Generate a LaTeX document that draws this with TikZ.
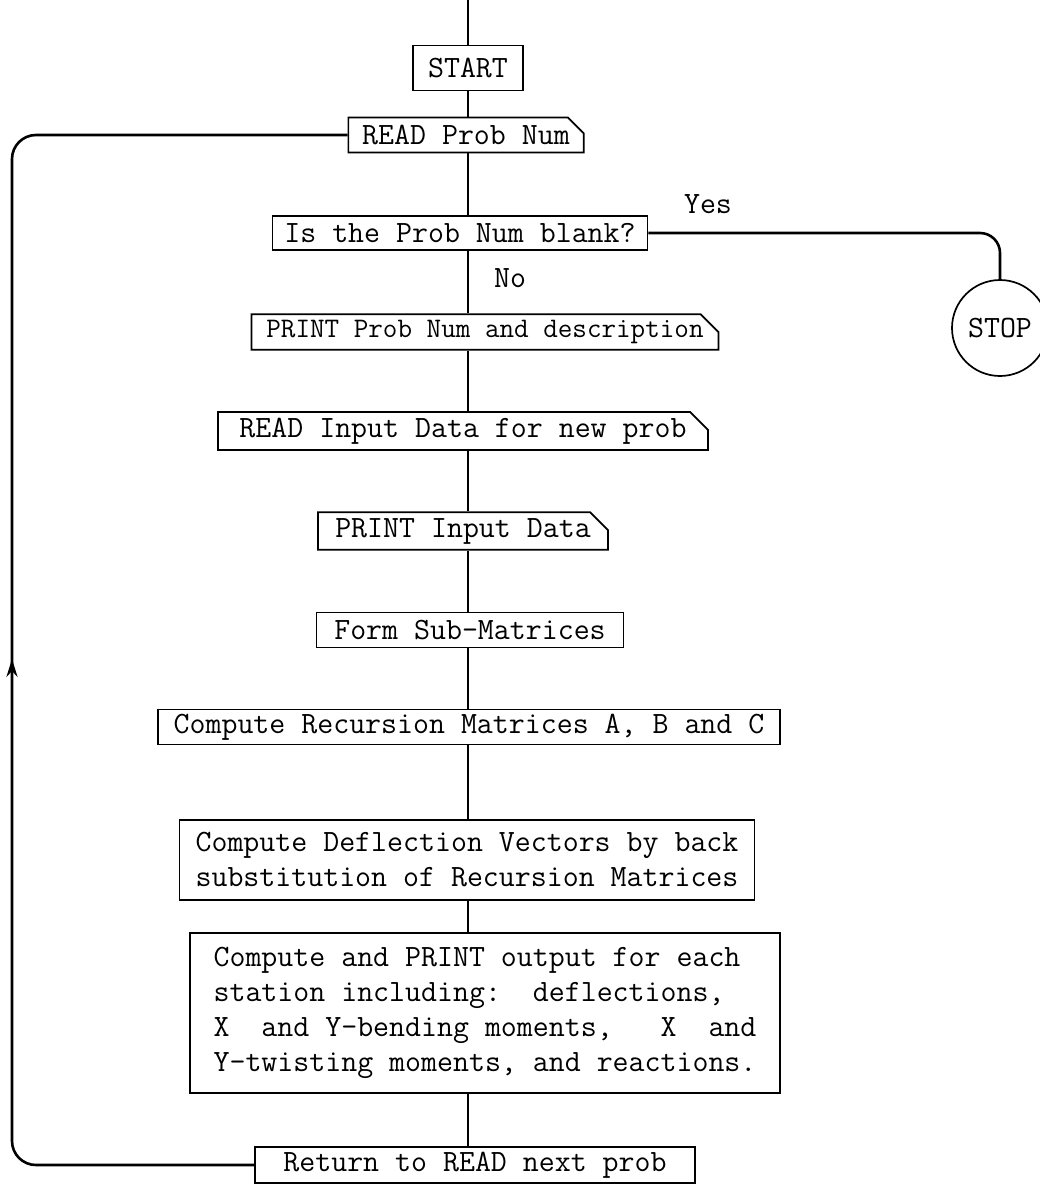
\documentclass[tikz,border=0pt]{standalone}
\usetikzlibrary{shapes.misc,shapes.geometric,arrows.meta,decorations.markings}

\tikzset{
  flowtext/.style={font=\fontsize{31}{35}\selectfont\ttfamily},
  procbox/.style={flowtext, draw, line width=1.7pt, fill=white, rectangle,
    inner xsep=6pt, inner ysep=3pt, minimum height=35pt},
  iobox/.style={procbox, chamfered rectangle, chamfered rectangle corners=north east,
    chamfered rectangle xsep=15pt, inner xsep=1pt},
  flowline/.style={line width=1.4pt},
  loopline/.style={line width=2.6pt, rounded corners=24pt}
}

\begin{document}
\begin{tikzpicture}[x=1pt, y=-1pt]
			\useasboundingbox (0,0) rectangle (1040,1200);

			% Boxes
			\coordinate (top) at (468,0);
			\node[procbox, minimum width=110pt, minimum height=45pt] (start) at (468,68) {START};
			\node[iobox, minimum width=233pt] (readnum) at (466,135) {READ Prob Num};
			\node[procbox, minimum width=375pt, minimum height=34pt] (isblank) at (460,233) {Is the Prob Num blank?};
			\node[iobox, minimum width=452pt, inner xsep=0pt, font=\fontsize{28.3}{35}\selectfont\ttfamily] (printdesc) at (485,332) {PRINT Prob Num and description};
			\node[iobox, minimum width=490pt] (readinput) at (463,431) {READ Input Data for new prob};
			\node[iobox, minimum width=290pt] (printinput) at (463,531) {PRINT Input Data};
			\node[procbox, minimum width=307pt] (formsub) at (470,630) {Form Sub-Matrices};
			\node[procbox, minimum width=622pt] (recmat) at (469,727) {Compute Recursion Matrices A, B and C};
			\node[procbox, minimum width=575pt, minimum height=80pt, align=center] (deflvec) at (467,860)
				{Compute Deflection Vectors by back\\substitution of Recursion Matrices};
			\node[procbox, minimum width=590pt, minimum height=160pt, align=left] (printout) at (485,1013)
				{Compute and PRINT output for each\\station including:~~deflections,\\X~~and Y-bending moments,~~~X~~and\\Y-twisting moments, and reactions.};
			\node[procbox, minimum width=440pt, minimum height=36pt] (retread) at (475,1165) {Return to READ next prob};
			\node[flowtext, draw, circle, line width=1.7pt, minimum size=96pt, inner sep=0pt] (stop) at (1000,328) {STOP};

			% Labels
			\node[flowtext] (yes) at (708,204) {Yes};
			\node[flowtext] (no) at (510,278) {No};

			% Main line
			\draw[flowline] (top) -- (start.north);
			\foreach \a/\b in {start/readnum, readnum/isblank, isblank/printdesc, printdesc/readinput,
				readinput/printinput, printinput/formsub, formsub/recmat, recmat/deflvec,
				deflvec/printout, printout/retread}
				\draw[flowline] (top |- \a.south) -- (top |- \b.north);

			% Yes branch
			\draw[loopline, rounded corners=20pt] (isblank.east) -| (stop.north);

			% Loop back
			\draw[loopline, postaction={decorate}, decoration={markings,
				mark=at position 0.465 with {\arrow{Stealth[length=18pt, width=11pt]}}}]
				(retread.west) -| (12,135) -- (readnum.west);
		\end{tikzpicture}
\end{document}
